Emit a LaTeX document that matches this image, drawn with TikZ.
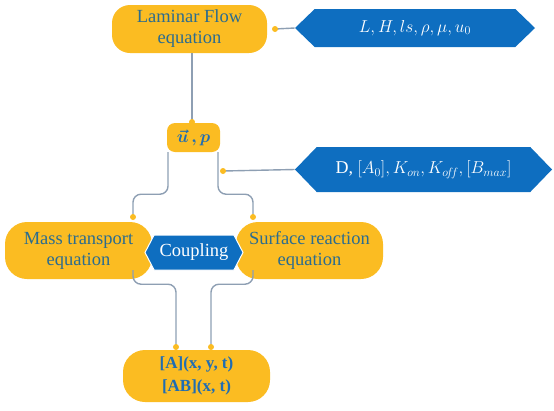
\documentclass[tikz,border=0pt]{standalone}
\usepackage{bm}
\usepackage{fontspec}
\setmainfont{Liberation Serif}
\usetikzlibrary{shapes.symbols}
\definecolor{orng}{HTML}{FBBC22}
\definecolor{hexblue}{HTML}{0E6EC0}
\definecolor{tealtxt}{HTML}{2B6C8F}
\definecolor{boldblue}{HTML}{1F6DB3}
\definecolor{linegray}{HTML}{8E9FB3}
\tikzset{
  eqbox/.style={fill=orng, rounded corners=18pt, inner sep=0pt, align=center,
    text=tealtxt, font=\rmfamily\fontsize{18.5}{21}\selectfont},
  hexbox/.style={signal, signal to=west and east, fill=hexblue, text=white,
    inner sep=0pt, font=\rmfamily\fontsize{18}{20}\selectfont},
  link/.style={draw=linegray, line width=1.4pt, rounded corners=8pt},
  enddot/.style={fill=orng, circle, inner sep=0pt, minimum size=6pt},
}
\begin{document}
\begin{tikzpicture}[x=1pt,y=-1pt]
\useasboundingbox (0,0) rectangle (554,410);
% nodes
\node[eqbox, minimum width=155pt, minimum height=48pt] (lam) at (189.5,29) {Laminar Flow\\equation};
\node[hexbox, minimum width=240pt, minimum height=38pt, signal pointer angle=88] (p1) at (415,28) {$L, H, ls, \rho, \mu, u_0$};
\node[eqbox, rounded corners=8pt, minimum width=53pt, minimum height=29pt, text=boldblue] (up) at (193.5,137.5) {$\bm{\vec{u}\,, p}$};
\node[hexbox, minimum width=257pt, minimum height=45pt, signal pointer angle=92] (p2) at (423.5,169.5) {D, $[A_0], K_{on}, K_{o\!f\!f}, [B_{max}]$};
\node[eqbox, rounded corners=22pt, minimum width=147pt, minimum height=57pt] (mt) at (78.5,250.5) {Mass transport\\equation};
\node[eqbox, rounded corners=22pt, minimum width=147pt, minimum height=57pt] (sr) at (309.5,250.5) {Surface reaction\\equation};
\node[hexbox, draw=white, line width=1pt, minimum width=98pt, minimum height=35pt, signal pointer angle=125, font=\rmfamily\fontsize{18.5}{21}\selectfont] (cp) at (194,252.5) {Coupling};
\node[eqbox, rounded corners=22pt, minimum width=147pt, minimum height=52pt, text=boldblue, font=\rmfamily\fontsize{17}{23}\selectfont\bfseries] (res) at (196.5,376) {[A](x, y, t)\\{}[AB](x, t)};
% dot coordinates
\coordinate (d1) at (275,29);
\coordinate (d2) at (223,171);
\coordinate (dm) at (133,217);
\coordinate (ds) at (253,217);
\coordinate (dr1) at (176,347);
\coordinate (dr2) at (211,347);
\coordinate (dup) at (192,122);
% connectors
\draw[link] (lam.south -| dup) -- (dup);
\draw[link] (d1) -- (p1.west);
\draw[link] (d2) -- (p2.west);
\draw[link] ([xshift=-25.5pt]up.south) -- ++(0,42) -| (dm);
\draw[link] ([xshift=24.5pt]up.south) -- ++(0,42) -| (ds);
\draw[link] ([yshift=9pt]mt.south -| dm) -- ++(0,14) -| (dr1);
\draw[link] ([yshift=9pt]sr.south -| ds) -- ++(0,14) -| (dr2);
% dots
\foreach \d in {d1,d2,dm,ds,dr1,dr2,dup} \node[enddot] at (\d) {};
\end{tikzpicture}
\end{document}
